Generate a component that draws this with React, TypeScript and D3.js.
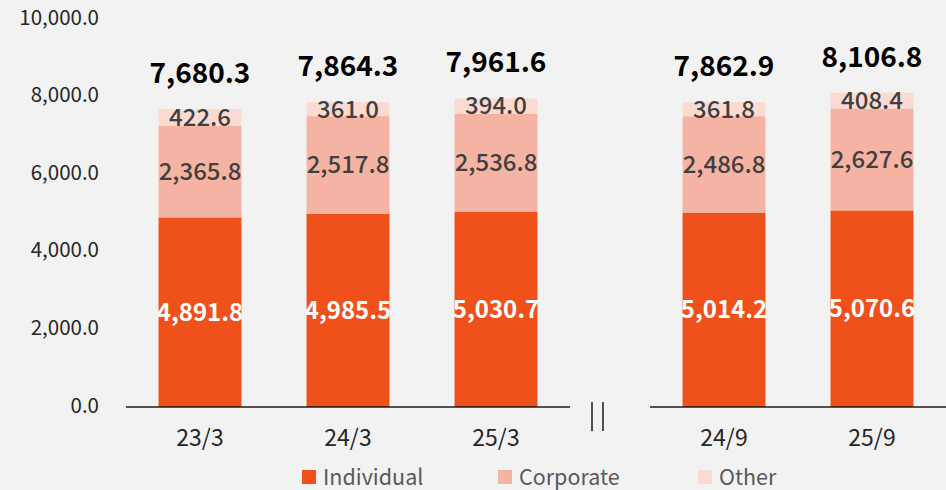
import React from "react";
import * as d3 from "d3";

const leftCategories = ["23/3", "24/3", "25/3"];
const rightCategories = ["24/9", "25/9"];
const categories = [...leftCategories, ...rightCategories];
const individual = [4891.8, 4985.5, 5030.7, 5014.2, 5070.6];
const corporate = [2365.8, 2517.8, 2536.8, 2486.8, 2627.6];
const other = [422.6, 361.0, 394.0, 361.8, 408.4];
const totals = [7680.3, 7864.3, 7961.6, 7862.9, 8106.8];
const yTicks = [0, 2000, 4000, 6000, 8000, 10000];
const seriesNames = ["Individual", "Corporate", "Other"];

const W = 946;
const H = 490;
const COLORS = ["#F05019", "#F5B4A3", "#FBDAD2"];
const FONT = "'Noto Sans CJK JP', 'Noto Sans', sans-serif";

export default function App() {
  const y = d3.scaleLinear().domain([0, 10000]).range([407, 19.3]);
  const xLeft = d3
    .scaleBand<string>()
    .domain(leftCategories)
    .range([126, 570])
    .paddingInner(0.44)
    .paddingOuter(0.22);
  const xRight = d3
    .scaleBand<string>()
    .domain(rightCategories)
    .range([650, 946])
    .paddingInner(0.44)
    .paddingOuter(0.22);
  const xOf = (c: string) =>
    leftCategories.includes(c) ? (xLeft(c) as number) : (xRight(c) as number);
  const bw = xLeft.bandwidth();
  const fmt = d3.format(",.1f");

  const rows = categories.map((c, i) => ({
    cat: c,
    Individual: individual[i],
    Corporate: corporate[i],
    Other: other[i],
    total: totals[i],
  }));
  const stack = d3.stack<any>().keys(seriesNames)(rows);

  const legendX = [302, 498, 698];

  return (
    <svg
      width={W}
      height={H}
      style={{ position: "absolute", left: 0, top: 0, background: "#F2F2F2" }}
      fontFamily={FONT}
    >
      <rect x={0} y={0} width={W} height={H} fill="#F2F2F2" />
      {/* y tick labels */}
      {yTicks.map((t) => (
        <text
          key={t}
          x={99}
          y={y(t) - 3.5}
          textAnchor="end"
          dominantBaseline="central"
          fontSize={20.5}
          fill="#262626"
        >
          {fmt(t)}
        </text>
      ))}
      {/* bars */}
      {stack.map((layer, li) =>
        layer.map((d, i) => {
          const x = xOf(categories[i]);
          return (
            <rect
              key={li + "-" + i}
              x={x}
              y={y(d[1])}
              width={bw}
              height={y(d[0]) - y(d[1])}
              fill={COLORS[li]}
            />
          );
        })
      )}
      {/* segment labels */}
      {stack.map((layer, li) =>
        layer.map((d, i) => {
          const x = xOf(categories[i]) + bw / 2;
          const v = d[1] - d[0];
          return (
            <text
              key={"l" + li + "-" + i}
              x={x}
              y={(y(d[0]) + y(d[1])) / 2 - 2}
              textAnchor="middle"
              dominantBaseline="central"
              fontSize={24}
              fontWeight={li === 0 ? 700 : 500}
              fill={li === 0 ? "#FFFFFF" : "#404040"}
            >
              {fmt(v)}
            </text>
          );
        })
      )}
      {/* totals */}
      {rows.map((r, i) => (
        <text
          key={"t" + i}
          x={xOf(r.cat) + bw / 2}
          y={y(r.total) - 38}
          textAnchor="middle"
          dominantBaseline="central"
          fontSize={28}
          fontWeight={700}
          fill="#000000"
        >
          {fmt(r.total)}
        </text>
      ))}
      {/* axis lines */}
      <line x1={126} x2={570} y1={y(0)} y2={y(0)} stroke="#1A1A1A" strokeWidth={1.5} />
      <line x1={650} x2={946} y1={y(0)} y2={y(0)} stroke="#1A1A1A" strokeWidth={1.5} />
      {/* break marks */}
      <line x1={592} x2={592} y1={402} y2={431} stroke="#1A1A1A" strokeWidth={1.5} />
      <line x1={603} x2={603} y1={402} y2={431} stroke="#1A1A1A" strokeWidth={1.5} />
      {/* category labels */}
      {categories.map((c) => (
        <text
          key={"c" + c}
          x={xOf(c) + bw / 2}
          y={436}
          textAnchor="middle"
          dominantBaseline="central"
          fontSize={23}
          fill="#262626"
        >
          {c}
        </text>
      ))}
      {/* legend */}
      {seriesNames.map((s, i) => (
        <g key={"lg" + s} transform={`translate(${legendX[i]},477)`}>
          <rect x={0} y={-7} width={14} height={14} fill={COLORS[i]} />
          <text
            x={21}
            y={-2}
            dominantBaseline="central"
            fontSize={21.5}
            fill="#595959"
          >
            {s}
          </text>
        </g>
      ))}
    </svg>
  );
}
